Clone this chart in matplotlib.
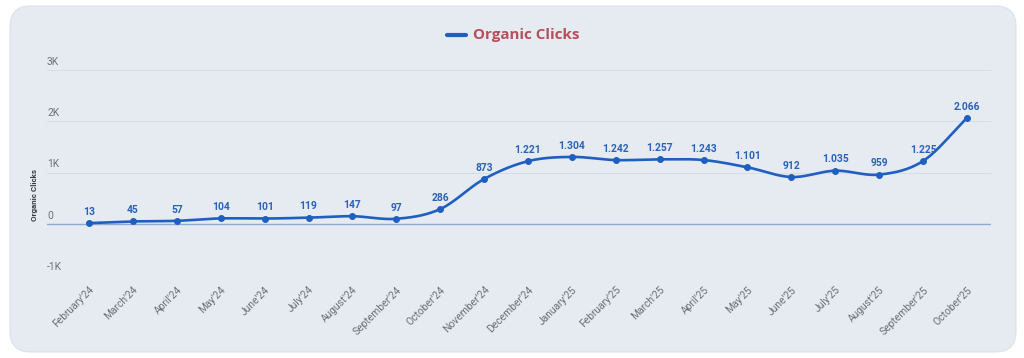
import numpy as np
import matplotlib
matplotlib.use("Agg")
import matplotlib.pyplot as plt
from matplotlib.patches import FancyBboxPatch

months = ["February'24", "March'24", "April'24", "May'24", "June'24", "July'24",
          "August'24", "September'24", "October'24", "November'24", "December'24",
          "January'25", "February'25", "March'25", "April'25", "May'25", "June'25",
          "July'25", "August'25", "September'25", "October'25"]
clicks = [13, 45, 57, 104, 101, 119, 147, 97, 286, 873, 1221, 1304, 1242, 1257,
          1243, 1101, 912, 1035, 959, 1225, 2066]
y_ticks = [-1000, 0, 1000, 2000, 3000]
y_tick_labels = ["-1K", "0", "1K", "2K", "3K"]

LINE = "#1f5fc0"
LABEL = "#2a62b8"
GRAY = "#6b6f78"
BG = "#e6eaf1"

fig = plt.figure(figsize=(10.24, 3.58), dpi=100)
fig.patch.set_facecolor("white")
panel = FancyBboxPatch((10/1024, 6/358), 1006/1024, 346/358,
                       boxstyle="round,pad=0,rounding_size=0.02",
                       transform=fig.transFigure, facecolor=BG, edgecolor="#dde2ea",
                       linewidth=0.8, mutation_aspect=1024/358, zorder=-10)
fig.patches.append(panel)

ax = fig.add_axes([47/1024, 1 - 275/358, 944/1024, 205/358])
ax.set_zorder(1)
ax.set_facecolor("none")
for s in ax.spines.values():
    s.set_visible(False)

x = np.arange(len(clicks))
y = np.array(clicks, dtype=float)

# Catmull-Rom style cubic Hermite smoothing between the data points
m = np.zeros_like(y)
m[1:-1] = (y[2:] - y[:-2]) / 2.0
m[0] = y[1] - y[0]
m[-1] = y[-1] - y[-2]
xs, ys = [], []
for i in range(len(y) - 1):
    t = np.linspace(0, 1, 30)
    h00 = 2*t**3 - 3*t**2 + 1
    h10 = t**3 - 2*t**2 + t
    h01 = -2*t**3 + 3*t**2
    h11 = t**3 - t**2
    xs.append(x[i] + t)
    ys.append(h00*y[i] + h10*m[i] + h01*y[i+1] + h11*m[i+1])
xs = np.concatenate(xs)
ys = np.concatenate(ys)

for yt in y_ticks:
    if yt == 0:
        ax.axhline(0, color="#8faad0", lw=1.0, zorder=1)
    else:
        ax.axhline(yt, color="#d6dde8", lw=0.7, zorder=0)

ax.plot(xs, ys, color=LINE, lw=1.9, zorder=3, solid_capstyle="round")
ax.plot(x, y, "o", color=LINE, ms=4, zorder=4)

for xi, v in zip(x, clicks):
    txt = f"{v:,}".replace(",", ".")
    ax.annotate(txt, (xi, v), xytext=(0, 4.5), textcoords="offset points",
                ha="center", va="bottom", fontsize=7.4, fontweight="bold",
                color=LABEL, family="Roboto")

ax.set_xlim(-0.957, 20.547)
ax.set_ylim(-1000, 3000)
ax.set_yticks([])
ax.set_xticks(x)
ax.set_xticklabels(months, rotation=45, ha="right", rotation_mode="anchor",
                   fontsize=7.4, color=GRAY, family="Roboto")
ax.tick_params(axis="x", length=0, pad=7)

for yt, lab in zip(y_ticks, y_tick_labels):
    ax.text(0.0, yt + 60, lab, transform=ax.get_yaxis_transform(),
            ha="left", va="bottom", fontsize=7.4, color=GRAY, family="Roboto")

fig.text(35/1024, 1 - 195/358, "Organic Clicks", rotation=90, ha="center",
         va="center", fontsize=5.8, fontweight="bold", color="#3a3d44", family="Roboto")

# legend-like title
fig.add_artist(plt.Line2D([447/1024, 466/1024], [1 - 35/358, 1 - 35/358],
                          color=LINE, lw=3, solid_capstyle="round",
                          transform=fig.transFigure))
fig.text(473/1024, 1 - 35/358, "Organic Clicks", ha="left", va="center",
         fontsize=10.9, fontweight="bold", color="#b5505a", family="Open Sans")

fig.savefig("out.png", dpi=100, facecolor="white")
